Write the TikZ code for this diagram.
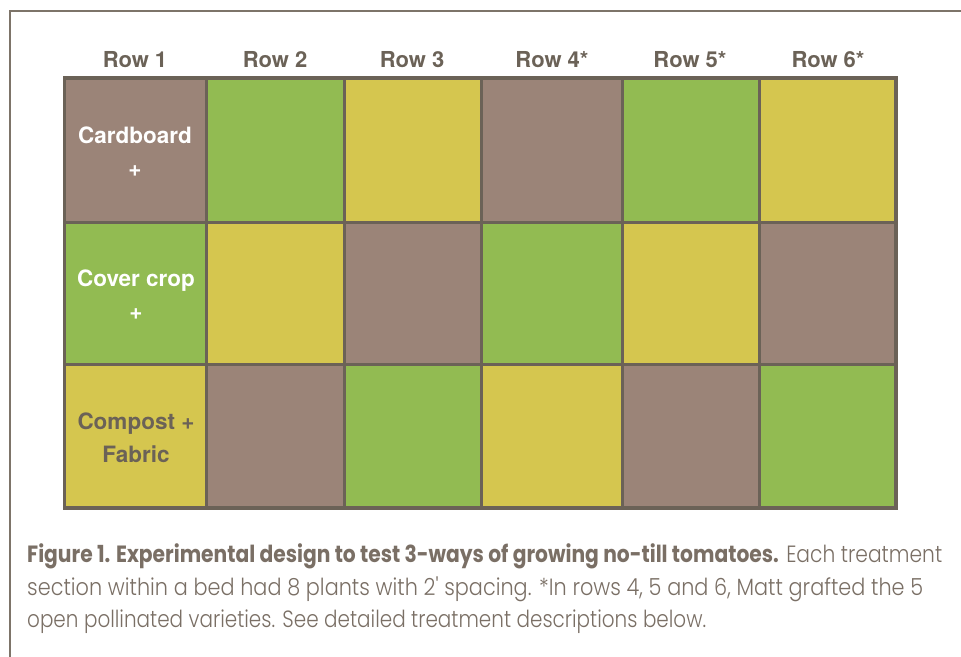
\documentclass[tikz,border=0pt]{standalone}
\usepackage{fontspec}
\usepackage{graphicx}
\setmainfont{TeX Gyre Heros}
\newfontfamily\capfont{Poppins}[UprightFont=* Light, BoldFont=* Bold]
\definecolor{frameC}{HTML}{7D7469}
\definecolor{gridC}{HTML}{6B6257}
\definecolor{brownC}{HTML}{9B8478}
\definecolor{greenC}{HTML}{92BB52}
\definecolor{yellowC}{HTML}{D5C64F}
\definecolor{textC}{HTML}{6B6257}
\definecolor{capC}{HTML}{7A6F65}
\tikzset{
  hdr/.style={font=\bfseries\fontsize{22}{24}\selectfont, text=textC, inner sep=0pt},
  cell/.style={font=\bfseries\fontsize{22.5}{33}\selectfont, align=center, inner sep=0pt},
  capline/.style={anchor=base west, inner sep=0pt, text=capC, font=\capfont\fontsize{23.5}{26}\selectfont}
}
\begin{document}
\begin{tikzpicture}[x=1pt,y=-1pt]
\useasboundingbox (0,0) rectangle (961,656);
\draw[frameC, line width=2.2pt] (970,11) -- (10,11) -- (10,670);
% cells
\def\xs{{64.5,206,344,481,622,759,896}}
\def\ys{{78,222,364,508}}
\foreach \c/\r/\col in {0/0/brownC,1/0/greenC,2/0/yellowC,3/0/brownC,4/0/greenC,5/0/yellowC,
                        0/1/greenC,1/1/yellowC,2/1/brownC,3/1/greenC,4/1/yellowC,5/1/brownC,
                        0/2/yellowC,1/2/brownC,2/2/greenC,3/2/yellowC,4/2/brownC,5/2/greenC}{
  \pgfmathsetmacro{\xa}{\xs[\c]}
  \pgfmathsetmacro{\xb}{\xs[\c+1]}
  \pgfmathsetmacro{\ya}{\ys[\r]}
  \pgfmathsetmacro{\yb}{\ys[\r+1]}
  \fill[\col] (\xa,\ya) rectangle (\xb,\yb);
}
% grid lines
\foreach \x in {206,344,481,622,759}{ \draw[gridC, line width=3pt] (\x,78) -- (\x,508); }
\foreach \y in {222,364}{ \draw[gridC, line width=3pt] (64.5,\y) -- (896,\y); }
\draw[gridC, line width=3.6pt] (64.5,78) rectangle (896,508);
% headers
\node[hdr] (h1) at (135,60) {Row 1};
\node[hdr] (h2) at (275,60) {Row 2};
\node[hdr] (h3) at (412,60) {Row 3};
\node[hdr] (h4) at (552,60) {Row 4*};
\node[hdr] (h5) at (690,60) {Row 5*};
\node[hdr] (h6) at (828,60) {Row 6*};
% cell labels
\node[cell, text=white] (l1) at (135,152) {Cardboard\\+};
\node[cell, text=white] (l2) at (136,295) {Cover crop\\+};
\node[cell, text=textC] (l3) at (136,438) {Compost +\\Fabric};
% caption
\node[capline] (c1) at (27,562) {\resizebox{915pt}{\height}{\textbf{Figure 1. Experimental design to test 3-ways of growing no-till tomatoes.} Each treatment}};
\node[capline] (c2) at (27,595) {\resizebox{896pt}{\height}{section within a bed had 8 plants with 2' spacing. *In rows 4, 5 and 6, Matt grafted the 5}};
\node[capline] (c3) at (27,627) {\resizebox{679pt}{\height}{open pollinated varieties. See detailed treatment descriptions below.}};
\end{tikzpicture}
\end{document}
